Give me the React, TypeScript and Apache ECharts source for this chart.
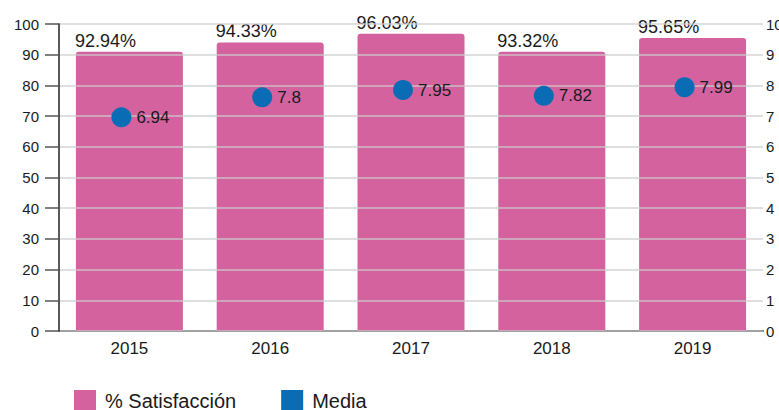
import React, { useEffect, useRef } from "react";
import * as echarts from "echarts";

const years = ["2015", "2016", "2017", "2018", "2019"];
const satisfactionBars = [91.0, 94.0, 96.8, 91.0, 95.4];
const satisfactionLabels = ["92.94%", "94.33%", "96.03%", "93.32%", "95.65%"];
const mediaPoints = [6.96, 7.61, 7.85, 7.66, 7.94];
const mediaLabels = ["6.94", "7.8", "7.95", "7.82", "7.99"];
const leftTicks = [0, 100, 10];
const rightTicks = [0, 10, 1];

const FONT = "'Liberation Sans', Arial, sans-serif";
const PINK = "#d4629f";
const BLUE = "#0b6cb6";

export default function App() {
  const ref = useRef<HTMLDivElement>(null);
  useEffect(() => {
    if (!ref.current) return;
    const chart = echarts.init(ref.current, null, { renderer: "svg" });
    chart.setOption({
      animation: false,
      textStyle: { fontFamily: FONT },
      grid: { left: 59, right: 16, top: 24, bottom: 79, containLabel: false, outerBoundsMode: "none" },
      legend: {
        left: 74,
        top: 390,
        padding: 0,
        icon: "rect",
        itemWidth: 22,
        itemHeight: 22,
        itemGap: 45,
        textStyle: { fontSize: 20, color: "#1a1a1a", fontFamily: FONT, padding: [0, 0, 0, 4] },
        data: ["% Satisfacción", "Media"],
      },
      xAxis: {
        type: "category",
        data: years,
        axisLine: { lineStyle: { color: "#555", width: 2 } },
        axisTick: { show: false },
        axisLabel: { color: "#1a1a1a", fontSize: 17, margin: 9, fontFamily: FONT },
      },
      yAxis: [
        {
          type: "value",
          min: leftTicks[0],
          max: leftTicks[1],
          interval: leftTicks[2],
          z: 2,
          axisLine: { show: true, lineStyle: { color: "#222", width: 1.5 } },
          axisTick: { show: true, inside: false, length: 14, lineStyle: { color: "#555", width: 1.5 } },
          axisLabel: { color: "#1a1a1a", fontSize: 15, margin: 20, fontFamily: FONT },
          splitLine: { show: true, lineStyle: { color: "rgba(205,205,205,0.85)", width: 1.5 } },
        },
        {
          type: "value",
          min: rightTicks[0],
          max: rightTicks[1],
          interval: rightTicks[2],
          position: "right",
          axisLine: { show: false },
          axisTick: { show: false },
          axisLabel: { color: "#1a1a1a", fontSize: 15, margin: 3, fontFamily: FONT },
          splitLine: { show: false },
        },
      ],
      series: [
        {
          name: "% Satisfacción",
          type: "bar",
          z: 1,
          barWidth: "76%",
          itemStyle: { color: PINK, borderRadius: [3, 3, 0, 0] },
          data: satisfactionBars.map((v, i) => ({
            value: v,
            label: {
              show: true,
              formatter: satisfactionLabels[i],
              position: [-1, -2],
              align: "left",
              verticalAlign: "bottom",
              fontSize: 18,
              color: "#1a1a1a",
              fontFamily: FONT,
            },
          })),
        },
        {
          name: "Media",
          type: "scatter",
          yAxisIndex: 1,
          z: 3,
          symbol: "circle",
          symbolSize: 20,
          symbolOffset: [-8, 0],
          itemStyle: { color: BLUE, opacity: 1 },
          data: mediaPoints.map((v, i) => ({
            value: v,
            label: {
              show: true,
              formatter: mediaLabels[i],
              position: "right",
              distance: 5,
              fontSize: 17,
              color: "#1a1a1a",
              fontFamily: FONT,
            },
          })),
        },
      ],
    });
    return () => chart.dispose();
  }, []);
  return (
    <div
      ref={ref}
      style={{ position: "fixed", left: 0, top: 0, width: 779, height: 410, background: "#fff" }}
    />
  );
}
